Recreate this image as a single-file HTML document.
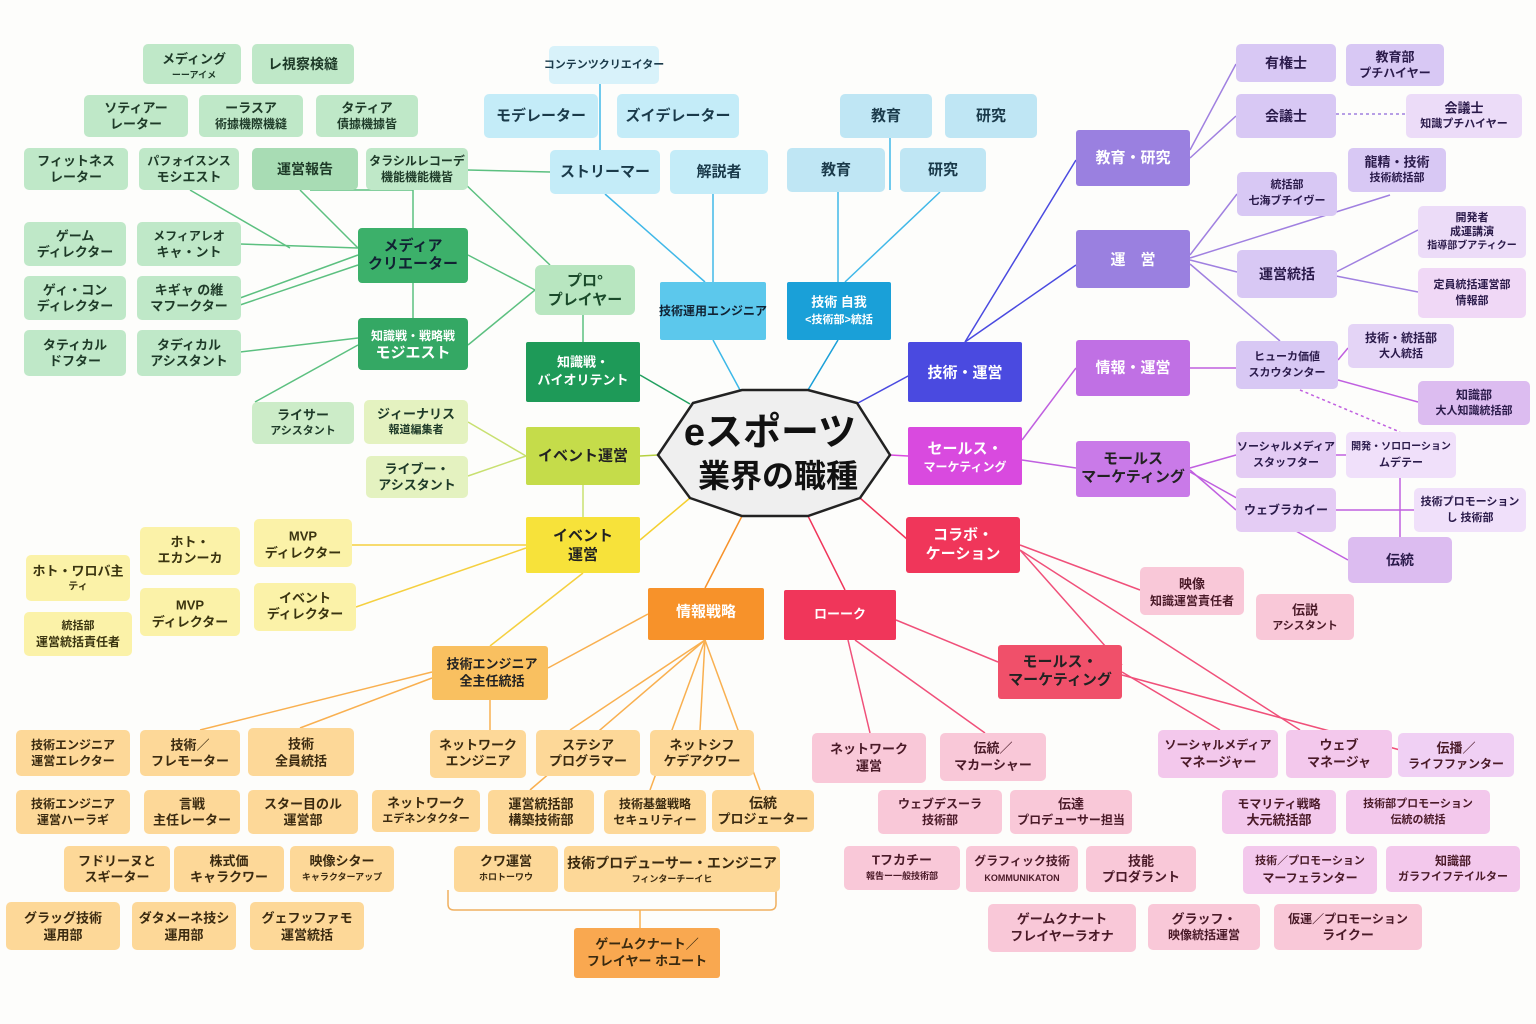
<!DOCTYPE html>
<html><head><meta charset="utf-8"><style>
html,body{margin:0;padding:0;background:#fff}
svg{display:block}
text{font-family:"Liberation Sans","Noto Sans CJK JP",sans-serif;font-weight:bold;text-anchor:middle;dominant-baseline:central}
</style></head><body>
<svg width="1536" height="1024" viewBox="0 0 1536 1024" xmlns="http://www.w3.org/2000/svg">
<rect width="1536" height="1024" fill="#fdfdfb"/>
<g stroke-width="1.5" fill="none">
<!-- center links -->
<line x1="690" y1="404" x2="640" y2="375" stroke="#22a060"/>
<line x1="658" y1="455" x2="640" y2="456" stroke="#b5d040"/>
<line x1="690" y1="498" x2="640" y2="540" stroke="#f5d030"/>
<line x1="740" y1="390" x2="713" y2="340" stroke="#3cb8e8"/>
<line x1="808" y1="390" x2="838" y2="340" stroke="#1aa0d8"/>
<line x1="858" y1="403" x2="910" y2="375" stroke="#4a4ae0"/>
<line x1="890" y1="455" x2="908" y2="456" stroke="#d94adf"/>
<line x1="860" y1="498" x2="908" y2="540" stroke="#f0365a"/>
<line x1="742" y1="516" x2="705" y2="588" stroke="#f7922a"/>
<line x1="808" y1="516" x2="845" y2="590" stroke="#f0365a"/>
<!-- green -->
<g stroke="#5cc080">
<line x1="535" y1="290" x2="468" y2="255"/><line x1="535" y1="290" x2="468" y2="345"/>
<line x1="583" y1="342" x2="583" y2="315"/>
<line x1="550" y1="265" x2="440" y2="160"/>
<line x1="413" y1="228" x2="413" y2="190"/><line x1="413" y1="318" x2="413" y2="283"/>
<line x1="358" y1="248" x2="300" y2="190"/><line x1="358" y1="248" x2="240" y2="244"/>
<line x1="358" y1="255" x2="240" y2="298"/><line x1="358" y1="265" x2="240" y2="305"/>
<line x1="358" y1="338" x2="240" y2="352"/><line x1="358" y1="345" x2="255" y2="402"/>
<line x1="290" y1="248" x2="190" y2="190"/><line x1="413" y1="190" x2="310" y2="190"/>
<line x1="468" y1="170" x2="550" y2="172"/>
</g>
<g stroke="#c8e070"><line x1="526" y1="456" x2="468" y2="422"/><line x1="526" y1="456" x2="468" y2="476"/><line x1="583" y1="485" x2="583" y2="517"/></g>
<g stroke="#f5d040"><line x1="526" y1="545" x2="352" y2="545"/><line x1="526" y1="548" x2="356" y2="607"/><line x1="583" y1="573" x2="490" y2="646"/></g>
<g stroke="#f9b050">
<line x1="432" y1="672" x2="200" y2="730"/><line x1="432" y1="678" x2="300" y2="728"/><line x1="490" y1="700" x2="490" y2="730"/>
<line x1="648" y1="614" x2="548" y2="668"/><line x1="705" y1="640" x2="570" y2="730"/><line x1="705" y1="640" x2="700" y2="730"/>
<line x1="705" y1="640" x2="650" y2="790"/><line x1="705" y1="640" x2="760" y2="790"/><line x1="705" y1="640" x2="530" y2="790"/>
<path d="M448 890 v14 q0 6 6 6 h316 q6 0 6-6 v-14" stroke="#f0b060"/>
<line x1="640" y1="910" x2="640" y2="928"/>
</g>
<g stroke="#40b8e8">
<line x1="713" y1="282" x2="713" y2="194"/><line x1="705" y1="282" x2="605" y2="194"/><line x1="600" y1="150" x2="600" y2="84"/>
<line x1="838" y1="282" x2="838" y2="192"/><line x1="845" y1="282" x2="940" y2="192"/><line x1="890" y1="138" x2="890" y2="190"/>
</g>
<g stroke="#4a4ae0"><line x1="965" y1="342" x2="1076" y2="160"/><line x1="965" y1="342" x2="1076" y2="265"/></g>
<g stroke="#a080e0">
<line x1="1190" y1="150" x2="1236" y2="64"/><line x1="1190" y1="158" x2="1236" y2="116"/>
<line x1="1336" y1="114" x2="1406" y2="114" stroke-dasharray="3 3"/>
<line x1="1190" y1="255" x2="1237" y2="194"/><line x1="1190" y1="260" x2="1237" y2="272"/>
<line x1="1190" y1="258" x2="1390" y2="195"/><line x1="1336" y1="272" x2="1418" y2="230"/><line x1="1336" y1="276" x2="1418" y2="292"/>
<line x1="1190" y1="264" x2="1280" y2="341"/>
</g>
<g stroke="#c060e0">
<line x1="1022" y1="440" x2="1076" y2="368"/><line x1="1022" y1="460" x2="1076" y2="468"/>
<line x1="1190" y1="368" x2="1236" y2="368"/><line x1="1338" y1="360" x2="1348" y2="348"/><line x1="1338" y1="380" x2="1418" y2="402"/>
<line x1="1300" y1="390" x2="1400" y2="432" stroke-dasharray="3 3"/>
<line x1="1190" y1="468" x2="1236" y2="455"/><line x1="1190" y1="470" x2="1236" y2="510"/><line x1="1190" y1="472" x2="1348" y2="560"/>
<line x1="1336" y1="455" x2="1346" y2="455"/><line x1="1336" y1="510" x2="1414" y2="510"/><line x1="1400" y1="478" x2="1400" y2="537"/>
</g>
<g stroke="#f0507a">
<line x1="1020" y1="545" x2="1140" y2="590"/><line x1="1020" y1="550" x2="1122" y2="665"/><line x1="1020" y1="550" x2="1300" y2="730"/>
<line x1="1122" y1="675" x2="1400" y2="750"/><line x1="1122" y1="672" x2="1220" y2="730"/>
<line x1="896" y1="620" x2="998" y2="662"/><line x1="848" y1="640" x2="870" y2="733"/><line x1="855" y1="640" x2="985" y2="733"/>
</g>
</g>

<!-- center -->
<polygon points="658,455 693,403 742,390 808,390 857,403 890,455 860,498 808,516 742,516 690,498" fill="#efefef" stroke="#222" stroke-width="2.5"/>
<text x="770" y="433" font-size="38" fill="#111">eスポーツ</text>
<text x="778" y="476" font-size="32" fill="#111">業界の職種</text>

<!-- nodes -->
<g font-size="13">
<!-- main -->
<g fill="#fff" font-size="15">
<rect x="535" y="265" width="100" height="50" rx="6" fill="#b8e6c0"/><text x="585" y="281" fill="#1a4a2a">プロ°</text><text x="585" y="300" fill="#1a4a2a">プレイヤー</text>
<rect x="358" y="228" width="110" height="55" rx="4" fill="#3cb06a"/><text x="413" y="246" fill="#123">メディア</text><text x="413" y="264" fill="#123">クリエーター</text>
<rect x="358" y="318" width="110" height="52" rx="4" fill="#34a864"/><text x="413" y="336" font-size="12" fill="#fff">知識戦・戦略戦</text><text x="413" y="353" fill="#fff">モジエスト</text>
<rect x="526" y="342" width="114" height="60" rx="2" fill="#1e9a58"/><text x="583" y="362" font-size="13" fill="#fff">知識戦・</text><text x="583" y="380" font-size="13" fill="#fff">バイオリテント</text>
<rect x="526" y="427" width="114" height="58" rx="2" fill="#c5dc4a"/><text x="583" y="456" fill="#222">イベント運営</text>
<rect x="526" y="517" width="114" height="56" rx="2" fill="#f7e23a"/><text x="583" y="536" fill="#222">イベント</text><text x="583" y="555" fill="#222">運営</text>
<rect x="432" y="646" width="116" height="54" rx="3" fill="#f9c060"/><text x="492" y="664" font-size="13" fill="#222">技術エンジニア</text><text x="492" y="681" font-size="13" fill="#222">全主任統括</text>
<rect x="648" y="588" width="116" height="52" rx="2" fill="#f7922a"/><text x="706" y="612">情報戦略</text>
<rect x="784" y="590" width="112" height="50" rx="2" fill="#f0365a"/><text x="840" y="614" font-size="13">ローーク</text>
<rect x="906" y="517" width="114" height="56" rx="3" fill="#f0365a"/><text x="963" y="535">コラボ・</text><text x="963" y="554">ケーション</text>
<rect x="998" y="645" width="124" height="54" rx="3" fill="#f0506a"/><text x="1060" y="662" fill="#222">モールス・</text><text x="1060" y="680" fill="#222">マーケティング</text>
<rect x="908" y="427" width="114" height="58" rx="2" fill="#d94adf"/><text x="965" y="449">セールス・</text><text x="965" y="467" font-size="12">マーケティング</text>
<rect x="908" y="342" width="114" height="60" rx="2" fill="#4a4ae0"/><text x="965" y="373">技術・運営</text>
<rect x="1076" y="130" width="114" height="56" rx="3" fill="#9a80e0"/><text x="1133" y="158">教育・研究</text>
<rect x="1076" y="230" width="114" height="58" rx="3" fill="#9a80e0"/><text x="1133" y="260">運　営</text>
<rect x="1076" y="340" width="114" height="56" rx="3" fill="#c070e4"/><text x="1133" y="368">情報・運営</text>
<rect x="1076" y="441" width="114" height="56" rx="3" fill="#c97ae8"/><text x="1133" y="459" fill="#222">モールス</text><text x="1133" y="477" fill="#222">マーケティング</text>
<rect x="660" y="282" width="106" height="58" rx="2" fill="#5cc8ec"/><text x="713" y="311" font-size="12" fill="#123">技術運用エンジニア</text>
<rect x="787" y="282" width="104" height="58" rx="2" fill="#1aa0d8"/><text x="839" y="302" font-size="13">技術 自我</text><text x="839" y="320" font-size="11">&lt;技術部&gt;統括</text>
</g>
<!-- cyan top -->
<g fill="#1a3a4a" font-size="15">
<rect x="549" y="46" width="110" height="38" rx="5" fill="#d8f2fa"/><text x="604" y="65" font-size="11">コンテンツクリエイター</text>
<rect x="484" y="94" width="114" height="44" rx="5" fill="#c4ecf8"/><text x="541" y="116">モデレーター</text>
<rect x="617" y="94" width="122" height="44" rx="5" fill="#c4ecf8"/><text x="678" y="116">ズイデレーター</text>
<rect x="550" y="150" width="110" height="44" rx="5" fill="#c4ecf8"/><text x="605" y="172">ストリーマー</text>
<rect x="670" y="150" width="98" height="44" rx="5" fill="#c4ecf8"/><text x="719" y="172">解説者</text>
<rect x="840" y="94" width="92" height="44" rx="5" fill="#bfe6f4"/><text x="886" y="116">教育</text>
<rect x="945" y="94" width="92" height="44" rx="5" fill="#bfe6f4"/><text x="991" y="116">研究</text>
<rect x="787" y="148" width="98" height="44" rx="5" fill="#bfe6f4"/><text x="836" y="170">教育</text>
<rect x="900" y="148" width="86" height="44" rx="5" fill="#bfe6f4"/><text x="943" y="170">研究</text>
</g>
<!-- green children -->
<g fill="#1e3a28">
<rect x="143" y="44" width="98" height="40" rx="5" fill="#bfe8c8"/><text x="194" y="59">メディング</text><text x="194" y="75" font-size="9">ーーアイメ</text>
<rect x="252" y="44" width="102" height="40" rx="5" fill="#bfe8c8"/><text x="303" y="64" font-size="14">レ視察検縫</text>
<rect x="84" y="95" width="104" height="42" rx="5" fill="#bfe8c8"/><text x="136" y="108">ソティアー</text><text x="136" y="124">レーター</text>
<rect x="199" y="95" width="104" height="42" rx="5" fill="#bfe8c8"/><text x="251" y="108">ーラスア</text><text x="251" y="124" font-size="12">術據機際機縫</text>
<rect x="316" y="95" width="102" height="42" rx="5" fill="#bfe8c8"/><text x="367" y="108">タティア</text><text x="367" y="124" font-size="12">債據機據皆</text>
<rect x="24" y="148" width="104" height="42" rx="5" fill="#bfe8c8"/><text x="76" y="161">フィットネス</text><text x="76" y="177">レーター</text>
<rect x="139" y="148" width="100" height="42" rx="5" fill="#bfe8c8"/><text x="189" y="161" font-size="12">パフォイスンス</text><text x="189" y="177">モシエスト</text>
<rect x="252" y="148" width="106" height="42" rx="5" fill="#a8dcb4"/><text x="305" y="169" font-size="14">運営報告</text>
<rect x="366" y="148" width="102" height="42" rx="5" fill="#bfe8c8"/><text x="417" y="161" font-size="12">タラシルレコーデ</text><text x="417" y="177" font-size="12">機能機能機皆</text>
<rect x="24" y="222" width="102" height="44" rx="5" fill="#bfe8c8"/><text x="75" y="236">ゲーム</text><text x="75" y="252">ディレクター</text>
<rect x="137" y="222" width="104" height="44" rx="5" fill="#bfe8c8"/><text x="189" y="236" font-size="12">メフィアレオ</text><text x="189" y="252">キャ・ント</text>
<rect x="24" y="276" width="102" height="44" rx="5" fill="#bfe8c8"/><text x="75" y="290">ゲィ・コン</text><text x="75" y="306">ディレクター</text>
<rect x="137" y="276" width="104" height="44" rx="5" fill="#bfe8c8"/><text x="189" y="290">キギャ の維</text><text x="189" y="306">マフークター</text>
<rect x="24" y="330" width="102" height="46" rx="5" fill="#bfe8c8"/><text x="75" y="345">タティカル</text><text x="75" y="361">ドフター</text>
<rect x="137" y="330" width="104" height="46" rx="5" fill="#bfe8c8"/><text x="189" y="345">タディカル</text><text x="189" y="361">アシスタント</text>
<rect x="252" y="402" width="102" height="42" rx="5" fill="#ccecc8"/><text x="303" y="415">ライサー</text><text x="303" y="431" font-size="11">アシスタント</text>
<rect x="364" y="400" width="104" height="44" rx="5" fill="#e4f2c0"/><text x="416" y="414">ジィーナリス</text><text x="416" y="430" font-size="11">報道編集者</text>
<rect x="366" y="456" width="102" height="42" rx="5" fill="#e4f2c0"/><text x="417" y="469">ライブー・</text><text x="417" y="485">アシスタント</text>
</g>
<!-- yellow -->
<g fill="#3a3410">
<rect x="140" y="527" width="100" height="48" rx="5" fill="#fbf2a8"/><text x="190" y="542">ホト・</text><text x="190" y="558">エカンーカ</text>
<rect x="254" y="519" width="98" height="48" rx="5" fill="#fbf2a8"/><text x="303" y="536">MVP</text><text x="303" y="553">ディレクター</text>
<rect x="26" y="555" width="104" height="46" rx="5" fill="#fbf2a8"/><text x="78" y="571">ホト・ワロバ主</text><text x="78" y="587" font-size="10">ティ</text>
<rect x="140" y="588" width="100" height="48" rx="5" fill="#fbf2a8"/><text x="190" y="605">MVP</text><text x="190" y="622">ディレクター</text>
<rect x="254" y="583" width="102" height="48" rx="5" fill="#fbf2a8"/><text x="305" y="598">イベント</text><text x="305" y="614">ディレクター</text>
<rect x="24" y="612" width="108" height="44" rx="5" fill="#fbf2a8"/><text x="78" y="626" font-size="11">統括部</text><text x="78" y="642" font-size="12">運営統括責任者</text>
</g>
<!-- orange -->
<g fill="#3a2a10">
<rect x="16" y="730" width="114" height="46" rx="5" fill="#fdd898"/><text x="73" y="745" font-size="12">技術エンジニア</text><text x="73" y="761" font-size="12">運営エレクター</text>
<rect x="140" y="730" width="100" height="46" rx="5" fill="#fdd898"/><text x="190" y="745">技術／</text><text x="190" y="761">フレモーター</text>
<rect x="248" y="728" width="106" height="48" rx="5" fill="#fdd898"/><text x="301" y="744">技術</text><text x="301" y="761">全員統括</text>
<rect x="430" y="730" width="96" height="48" rx="5" fill="#fdd898"/><text x="478" y="745">ネットワーク</text><text x="478" y="761">エンジニア</text>
<rect x="536" y="730" width="104" height="46" rx="5" fill="#fdd898"/><text x="588" y="745">ステシア</text><text x="588" y="761">プログラマー</text>
<rect x="650" y="730" width="104" height="46" rx="5" fill="#fdd898"/><text x="702" y="745">ネットシフ</text><text x="702" y="761">ケデアクワー</text>
<rect x="16" y="790" width="114" height="44" rx="5" fill="#fdd898"/><text x="73" y="804" font-size="12">技術エンジニア</text><text x="73" y="820" font-size="12">運営ハーラギ</text>
<rect x="144" y="790" width="96" height="44" rx="5" fill="#fdd898"/><text x="192" y="804">言戦</text><text x="192" y="820">主任レーター</text>
<rect x="248" y="790" width="110" height="44" rx="5" fill="#fdd898"/><text x="303" y="804">スター目のル</text><text x="303" y="820">運営部</text>
<rect x="372" y="790" width="108" height="42" rx="5" fill="#fdd898"/><text x="426" y="803">ネットワーク</text><text x="426" y="819" font-size="11">エデネンタクター</text>
<rect x="488" y="790" width="106" height="44" rx="5" fill="#fdd898"/><text x="541" y="804">運営統括部</text><text x="541" y="820">構築技術部</text>
<rect x="604" y="790" width="102" height="44" rx="5" fill="#fdd898"/><text x="655" y="804" font-size="12">技術基盤戦略</text><text x="655" y="820" font-size="12">セキュリティー</text>
<rect x="712" y="790" width="102" height="42" rx="5" fill="#fdd898"/><text x="763" y="803" font-size="14">伝統</text><text x="763" y="819">プロジェーター</text>
<rect x="64" y="846" width="106" height="46" rx="5" fill="#fdd898"/><text x="117" y="861">フドリーヌと</text><text x="117" y="877">スギーター</text>
<rect x="174" y="846" width="110" height="46" rx="5" fill="#fdd898"/><text x="229" y="861">株式価</text><text x="229" y="877">キャラクワー</text>
<rect x="290" y="846" width="104" height="46" rx="5" fill="#fdd898"/><text x="342" y="861">映像シター</text><text x="342" y="877" font-size="9">キャラクターアップ</text>
<rect x="454" y="846" width="104" height="46" rx="5" fill="#fdd898"/><text x="506" y="861">クワ運営</text><text x="506" y="877" font-size="9">ホロトーワウ</text>
<rect x="564" y="846" width="216" height="46" rx="5" fill="#fdd898"/><text x="672" y="863" font-size="14">技術プロデューサー・エンジニア</text><text x="672" y="879" font-size="9">フィンターチーイヒ</text>
<rect x="6" y="902" width="114" height="48" rx="5" fill="#fdd898"/><text x="63" y="918">グラッグ技術</text><text x="63" y="935">運用部</text>
<rect x="132" y="902" width="104" height="48" rx="5" fill="#fdd898"/><text x="184" y="918">ダタメーネ技シ</text><text x="184" y="935">運用部</text>
<rect x="250" y="902" width="114" height="48" rx="5" fill="#fdd898"/><text x="307" y="918">グェフッファモ</text><text x="307" y="935">運営統括</text>
<rect x="574" y="928" width="146" height="50" rx="3" fill="#f9a850"/><text x="647" y="944">ゲームクナート／</text><text x="647" y="961">フレイヤー ホユート</text>
</g>
<!-- pink -->
<g fill="#4a1a28">
<rect x="812" y="733" width="114" height="50" rx="5" fill="#f9c8d8"/><text x="869" y="749">ネットワーク</text><text x="869" y="766">運営</text>
<rect x="940" y="733" width="106" height="48" rx="5" fill="#f9c8d8"/><text x="993" y="748">伝統／</text><text x="993" y="765">マカーシャー</text>
<rect x="878" y="790" width="124" height="44" rx="5" fill="#f9c8d8"/><text x="940" y="804" font-size="12">ウェブデスーラ</text><text x="940" y="820" font-size="12">技術部</text>
<rect x="1010" y="790" width="122" height="44" rx="5" fill="#f9c8d8"/><text x="1071" y="804">伝達</text><text x="1071" y="820" font-size="12">プロデューサー担当</text>
<rect x="844" y="846" width="116" height="44" rx="5" fill="#f9c8d8"/><text x="902" y="860">Tフカチー</text><text x="902" y="876" font-size="9">報告ー一般技術部</text>
<rect x="966" y="846" width="112" height="46" rx="5" fill="#f9c8d8"/><text x="1022" y="861" font-size="12">グラフィック技術</text><text x="1022" y="878" font-size="9">KOMMUNIKATON</text>
<rect x="1086" y="846" width="110" height="46" rx="5" fill="#f9c8d8"/><text x="1141" y="861">技能</text><text x="1141" y="877">プロダラント</text>
<rect x="988" y="904" width="148" height="48" rx="5" fill="#f9c8d8"/><text x="1062" y="919">ゲームクナート</text><text x="1062" y="936">フレイヤーラオナ</text>
<rect x="1148" y="904" width="112" height="46" rx="5" fill="#f9c8d8"/><text x="1204" y="919">グラッフ・</text><text x="1204" y="935" font-size="12">映像統括運営</text>
<rect x="1274" y="904" width="148" height="46" rx="5" fill="#f9c8d8"/><text x="1348" y="919" font-size="12">仮運／プロモーション</text><text x="1348" y="935">ライクー</text>
<rect x="1140" y="567" width="104" height="48" rx="5" fill="#f9c8d8"/><text x="1192" y="584">映像</text><text x="1192" y="601" font-size="12">知識運営責任者</text>
<rect x="1256" y="594" width="98" height="46" rx="5" fill="#f9c8d8"/><text x="1305" y="610">伝説</text><text x="1305" y="626" font-size="11">アシスタント</text>
<rect x="1158" y="730" width="120" height="48" rx="5" fill="#f3c8ec"/><text x="1218" y="745" font-size="12">ソーシャルメディア</text><text x="1218" y="762">マネージャー</text>
<rect x="1286" y="730" width="106" height="48" rx="5" fill="#f3c8ec"/><text x="1339" y="745">ウェブ</text><text x="1339" y="762">マネージャ</text>
<rect x="1398" y="733" width="116" height="44" rx="5" fill="#f0d0f4"/><text x="1456" y="748">伝播／</text><text x="1456" y="764" font-size="12">ライフファンター</text>
<rect x="1222" y="790" width="114" height="44" rx="5" fill="#f3c8ec"/><text x="1279" y="804" font-size="12">モマリティ戦略</text><text x="1279" y="820">大元統括部</text>
<rect x="1346" y="790" width="144" height="44" rx="5" fill="#f3c8ec"/><text x="1418" y="804" font-size="11">技術部プロモーション</text><text x="1418" y="820" font-size="11">伝統の統括</text>
<rect x="1243" y="846" width="134" height="48" rx="5" fill="#f3c8ec"/><text x="1310" y="861" font-size="11">技術／プロモーション</text><text x="1310" y="878" font-size="12">マーフェランター</text>
<rect x="1386" y="846" width="134" height="46" rx="5" fill="#f3c8ec"/><text x="1453" y="861" font-size="12">知識部</text><text x="1453" y="877" font-size="11">ガラフイフテイルター</text>
</g>
<!-- purple -->
<g fill="#2a1a4a">
<rect x="1236" y="44" width="100" height="38" rx="5" fill="#d8c8f4"/><text x="1286" y="63" font-size="14">有権士</text>
<rect x="1346" y="44" width="98" height="42" rx="5" fill="#d8c8f4"/><text x="1395" y="57">教育部</text><text x="1395" y="73" font-size="12">プチハイヤー</text>
<rect x="1236" y="94" width="100" height="44" rx="5" fill="#d8c8f4"/><text x="1286" y="116" font-size="14">会議士</text>
<rect x="1406" y="94" width="116" height="44" rx="5" fill="#ecdcf8"/><text x="1464" y="108">会議士</text><text x="1464" y="124" font-size="11">知識プチハイヤー</text>
<rect x="1237" y="172" width="100" height="44" rx="5" fill="#d8c8f4"/><text x="1287" y="185" font-size="11">統括部</text><text x="1287" y="201" font-size="11">七海ブチイヴー</text>
<rect x="1348" y="148" width="98" height="44" rx="5" fill="#d8c8f4"/><text x="1397" y="162">龍精・技術</text><text x="1397" y="178" font-size="11">技術統括部</text>
<rect x="1418" y="206" width="108" height="52" rx="5" fill="#ecdcf8"/><text x="1472" y="218" font-size="11">開発者</text><text x="1472" y="232" font-size="11">成運講演</text><text x="1472" y="246" font-size="10">指導部ブアティクー</text>
<rect x="1237" y="250" width="100" height="48" rx="5" fill="#d8c8f4"/><text x="1287" y="274" font-size="14">運営統括</text>
<rect x="1418" y="268" width="108" height="50" rx="5" fill="#f0d8f6"/><text x="1472" y="285" font-size="11">定員統括運営部</text><text x="1472" y="301" font-size="11">情報部</text>
<rect x="1236" y="341" width="102" height="48" rx="5" fill="#d8c8f4"/><text x="1287" y="357" font-size="11">ヒューカ価値</text><text x="1287" y="373" font-size="11">スカウタンター</text>
<rect x="1348" y="324" width="106" height="44" rx="5" fill="#e4d4f6"/><text x="1401" y="338" font-size="12">技術・統括部</text><text x="1401" y="354" font-size="11">大人統括</text>
<rect x="1418" y="381" width="112" height="44" rx="5" fill="#dcbcf0"/><text x="1474" y="395" font-size="12">知識部</text><text x="1474" y="411" font-size="11">大人知識統括部</text>
<rect x="1236" y="432" width="100" height="46" rx="5" fill="#e4ccf4"/><text x="1286" y="447" font-size="11">ソーシャルメディア</text><text x="1286" y="463" font-size="11">スタッフター</text>
<rect x="1346" y="432" width="110" height="46" rx="5" fill="#f0e0fa"/><text x="1401" y="447" font-size="10">開発・ソロローション</text><text x="1401" y="463" font-size="11">ムデテー</text>
<rect x="1236" y="488" width="100" height="44" rx="5" fill="#e4ccf4"/><text x="1286" y="510" font-size="12">ウェブラカイー</text>
<rect x="1414" y="488" width="112" height="44" rx="5" fill="#f0e0fa"/><text x="1470" y="502" font-size="11">技術プロモーション</text><text x="1470" y="518" font-size="11">し 技術部</text>
<rect x="1348" y="537" width="104" height="46" rx="5" fill="#dcbcf0"/><text x="1400" y="560" font-size="14">伝統</text>
</g>
</g>
</svg>
</body></html>
